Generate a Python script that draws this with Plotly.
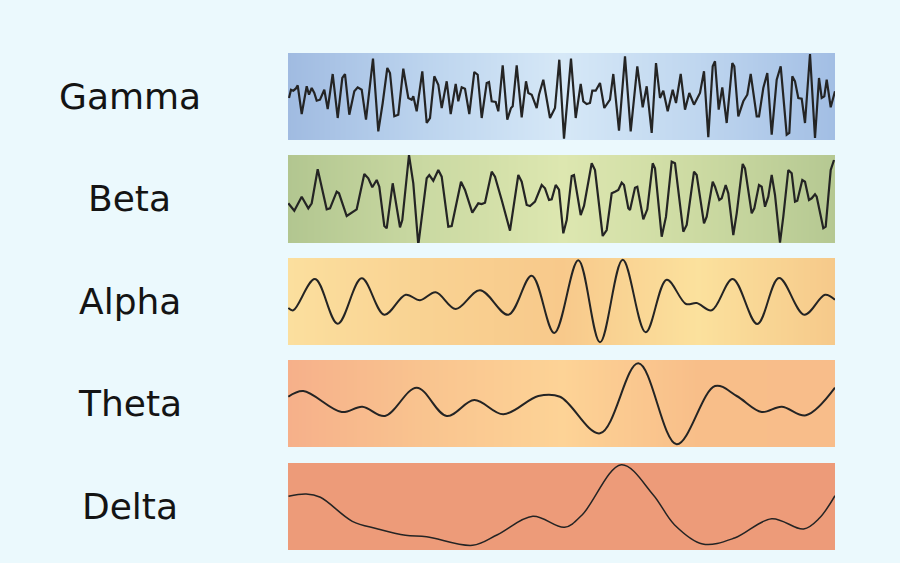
import plotly.graph_objects as go

W, H = 900, 563

bands = ["Gamma", "Beta", "Alpha", "Theta", "Delta"]

gamma_t = [1, 3, 5.3, 7.7, 9.7, 13.7, 18.7, 21, 23.7, 26.3, 28.7, 32, 36.3, 39.7, 44.7, 49.7, 54.3, 57, 61.3, 66.3,
           69.7, 73.7, 78, 85, 90.3, 94.7, 99.3, 102, 106.3, 110.3, 115.3, 120.3, 123.7, 125.3, 128.7, 134.3, 138.7,
           142, 146.3, 150.3, 153.7, 158.7, 162.7, 167.7, 170.3, 173.7, 177, 181.3, 186.3, 189.7, 193.7, 198.7, 201,
           203.7, 207.7, 210.3, 214.7, 219.3, 223, 224.7, 228.7, 233.7, 238, 240.3, 243.7, 248.7, 251, 255.3, 262,
           267, 271.3, 276, 283, 287.7, 292.7, 295.3, 298.7, 302, 304.3, 307.7, 312, 316.3, 322, 325.3, 331, 337,
           342.7, 349.3, 354.7, 358.7, 363.7, 368, 372, 375.3, 379.7, 384.7, 388, 392.7, 397, 401.3, 406, 412, 416,
           420.3, 424.7, 427, 430.7, 434.3, 438.7, 444.3, 446.3, 450.3, 455.3, 459.3, 462.7, 468.7, 471, 475.3,
           479.3, 483.7, 488.7, 492.7, 498.7, 501.3, 504.3, 507, 510.3, 513.7, 517, 522, 527, 531, 533.7, 536.3,
           538.7, 542.7, 547]
gamma_v = [-1.5, 6.8, 5.8, 7.8, 11.2, -17.5, 10.2, 1.8, 8.5, 3.5, -4.2, -3.2, 6.8, -12.5, 22.5, -21.5, 18.5, 22.5,
           -18.2, 5.2, 9.2, 6.8, -23.2, 37.8, -34.8, -6.5, 28.5, 23.5, -19.8, -18.2, 27.8, -1.5, -3.2, 0.2, -14.8,
           25.2, -26.5, -21.5, 20.2, 11.8, -11.5, 15.2, -17.5, 12.5, -4.8, 9.2, 7.8, -17.5, 24.5, 21.8, -21.5, 13.5,
           14.5, -4.8, -5.5, -14.8, 31.2, -23.2, -11.5, -9.8, 31.2, -20.8, 15.2, 3.5, 1.8, -11.5, 1.8, 16.8, -21.5,
           -11.5, 36.8, -42.2, 37.8, -21.5, 12.5, -4.8, -7.5, -6.5, 5.8, 5.8, 13.5, -11.5, -3.2, 22.5, -34.2, 40.2,
           -34.8, 30.2, -10.8, 10.2, -36.5, 33.5, -1.5, 5.8, -14.8, 6.8, -6.5, 22.5, -13.2, 3.5, -8.2, 3.5, 25.2,
           -40.8, 30.2, 35.2, -13.2, 9.2, -26.5, 33.5, 30.2, -19.8, -4.8, 1.8, 22.5, -19.8, -19.8, 8.5, 23.5, -38.2,
           16.8, 30.2, -38.2, -36.5, 20.2, 15.2, -1.5, -2.2, -26.5, 42.5, -41.5, 18.5, -1.5, 0.2, 16.8, -10.8, 5.2]

beta_t = [0.3, 6.3, 13.7, 20.3, 23.7, 29.7, 38.7, 42, 48.7, 51, 58.7, 63.7, 68.7, 76.3, 80.3, 84.3, 88.7, 91.3,
          96.3, 98.7, 104.7, 112, 114.3, 121, 125.3, 130.3, 133.7, 138.7, 141.3, 145.3, 150.3, 153.7, 160.3, 163.7,
          173, 177, 184.3, 190.3, 193.7, 197, 203.7, 207, 213.7, 222, 230.3, 233.7, 238.7, 242, 247, 253.7, 257,
          261, 263.7, 267.7, 271, 275.3, 278.7, 283.7, 286, 292.7, 296, 303.7, 307, 314.7, 318.7, 323.7, 327,
          330.3, 333.7, 336, 340.3, 342, 347, 349.3, 355.3, 359.3, 364.7, 367, 373.7, 378, 383.7, 387, 395.3,
          398.7, 406, 408.7, 416, 418.7, 424.7, 427, 431.3, 433.7, 437.7, 440.3, 445.3, 448.7, 454.7, 457, 463.7,
          466.3, 471, 473.7, 477, 480.3, 483.7, 487, 492, 495.3, 500.3, 503.7, 507, 509.3, 514.3, 517, 521, 523.7,
          527, 528.7, 535.3, 537.7, 542.7, 546]
beta_v = [-4.3, -11.7, 2.3, -9.3, -4.3, 29.7, -10.3, -9.3, 7.3, 5.7, -17, -13.7, -10.3, 25, 20.7, 11.7, 19, 12.3,
          -27, -29.3, 15.7, -28.3, -21, 44, 15.7, -46, -17.7, 20.7, 24, 18.3, 29, 22.3, -27.7, -27, 17.3, 9, -13.7,
          -4.3, -5, -3.7, 27.3, 22.3, -1, -31.7, 24, 17.3, -6, -7, -2.7, 14, 10.7, -1, -0.3, 14, 9.3, -34.3, -21,
          23, 24, -16, -7, 35.7, 29, -37, -31, 5.7, 7.3, 9, 16.3, 14, -9.3, -11, 11.3, 12.3, -20.3, -10.3, 35.7,
          30.7, -37.7, -17.7, 37.3, 35.7, -32.7, -26, 27.3, 24, -24.3, -17.7, 17.3, 12.3, -1, 0.7, 14, 5.7, -36,
          -14.3, 35, 30.7, -14.3, -9.3, 14, 12.3, -7.7, 2.3, 24, 4, -43.7, -17.7, 29, 25.7, -2.7, -1.7, 19, 17.3,
          -1, 0.7, 4.7, 2.3, -29.3, -27.7, 29, 39]

alpha_t = [0.3, 5.3, 27, 49.7, 73.7, 96.3, 117.7, 132, 147.7, 167.7, 192, 220.3, 243.7, 266.3, 290.3, 312, 334.7,
           357.7, 378.7, 398, 408.7, 423.7, 444.7, 469.3, 491, 516.3, 537, 547]
alpha_v = [-6.5, -8.8, 22.5, -22.2, 23.2, -13.2, 6.8, 1.2, 9.2, -7.5, 11.2, -13.2, 25.8, -31.5, 41.2, -40.8, 41.8,
           -30.8, 21.8, -2.5, -1.5, -8.8, 22.5, -22.5, 23.5, -13.2, 6.8, 1.8]

theta_t = [0.3, 15.3, 53.7, 74.3, 97, 128.7, 158.7, 186.3, 215.3, 250.3, 272, 312, 350.3, 388.7, 427, 448.7,
           473.7, 493.7, 518, 547]
theta_v = [6.8, 12.5, -8.5, -3.2, -12.5, 15.8, -12.5, 3.5, -10.8, 7.5, 6.8, -29.8, 40.2, -40.8, 17.5, 7.5, -8.5,
           -3.2, -11.8, 15.8]

delta_t = [0.5, 18.2, 32.4, 64.3, 89, 117.4, 138.6, 184.6, 209.4, 244.8, 276.6, 294.3, 333.3, 365.1, 386.4, 414.7,
           446.6, 483.7, 515.6, 531.5, 547]
delta_v = [10.2, 12.5, 9.2, -14.8, -22.2, -28.8, -30.2, -38.8, -28.2, -9.8, -20.8, -8.2, 41.8, 11.8, -18.2, -37.5,
           -31.5, -12.2, -22.5, -11.5, 10.8]

series_t = [gamma_t, beta_t, alpha_t, theta_t, delta_t]
series_v = [gamma_v, beta_v, alpha_v, theta_v, delta_v]

# styling / layout (pixels)
band_top = [53, 155, 258, 360, 463]
band_bot = [140, 243, 345, 447, 550]
band_left, band_right = 288, 835
t_max = 547
grad_pos = [0, 0.25, 0.5, 0.75, 1.0]
grad_cols = [
    ["#a0bbe1", "#bcd4ee", "#d6e8f7", "#bfd6ef", "#a2bee4"],
    ["#b2c690", "#cad9a2", "#dde7b0", "#ccdaa2", "#b5c892"],
    ["#fbdf9e", "#f9d292", "#f8c98b", "#fbe19d", "#f6c98a"],
    ["#f6b08a", "#f9c48f", "#fdd396", "#f8be89", "#f8bd8a"],
    ["#ed9b79", "#ed9b79", "#ed9b79", "#ed9b79", "#ed9b79"],
]
line_w = [2.2, 2.2, 2.0, 2.0, 1.5]
shape = ["linear", "linear", "spline", "spline", "spline"]

fig = go.Figure()
layout = dict(
    width=W, height=H, margin=dict(l=0, r=0, t=0, b=0),
    paper_bgcolor="#ebf9fd", plot_bgcolor="rgba(0,0,0,0)", showlegend=False,
)
annotations = []
for i, name in enumerate(bands):
    ax = "" if i == 0 else str(i + 1)
    xa, ya = "x" + ax, "y" + ax
    top, bot = band_top[i], band_bot[i]
    mid = (top + bot) / 2
    half = (bot - top) / 2
    xs = [p * t_max for p in grad_pos]
    cs = [[p, c] for p, c in zip(grad_pos, grad_cols[i])]
    fig.add_trace(go.Heatmap(
        x=xs, y=[-half - 5, half + 5], z=[grad_pos, grad_pos], colorscale=cs,
        zmin=0, zmax=1, zsmooth="best", showscale=False, hoverinfo="skip",
        xaxis=xa, yaxis=ya))
    fig.add_trace(go.Scatter(
        x=series_t[i], y=series_v[i], mode="lines",
        line=dict(color="#242424", width=line_w[i], shape=shape[i], smoothing=1.0),
        xaxis=xa, yaxis=ya, hoverinfo="skip"))
    layout["xaxis" + ax] = dict(domain=[band_left / W, band_right / W], range=[0, t_max],
                                visible=False, fixedrange=True, anchor=ya)
    layout["yaxis" + ax] = dict(domain=[1 - bot / H, 1 - top / H], range=[-half, half],
                                visible=False, fixedrange=True, anchor=xa)
    annotations.append(dict(
        text=name, x=129.5 / W, y=1 - (mid - 0.5) / H, xref="paper", yref="paper",
        xanchor="center", yanchor="middle", showarrow=False,
        font=dict(family="DejaVu Sans, sans-serif", size=36, color="#141414")))
layout["annotations"] = annotations
fig.update_layout(**layout)
fig.write_html("out.html")
